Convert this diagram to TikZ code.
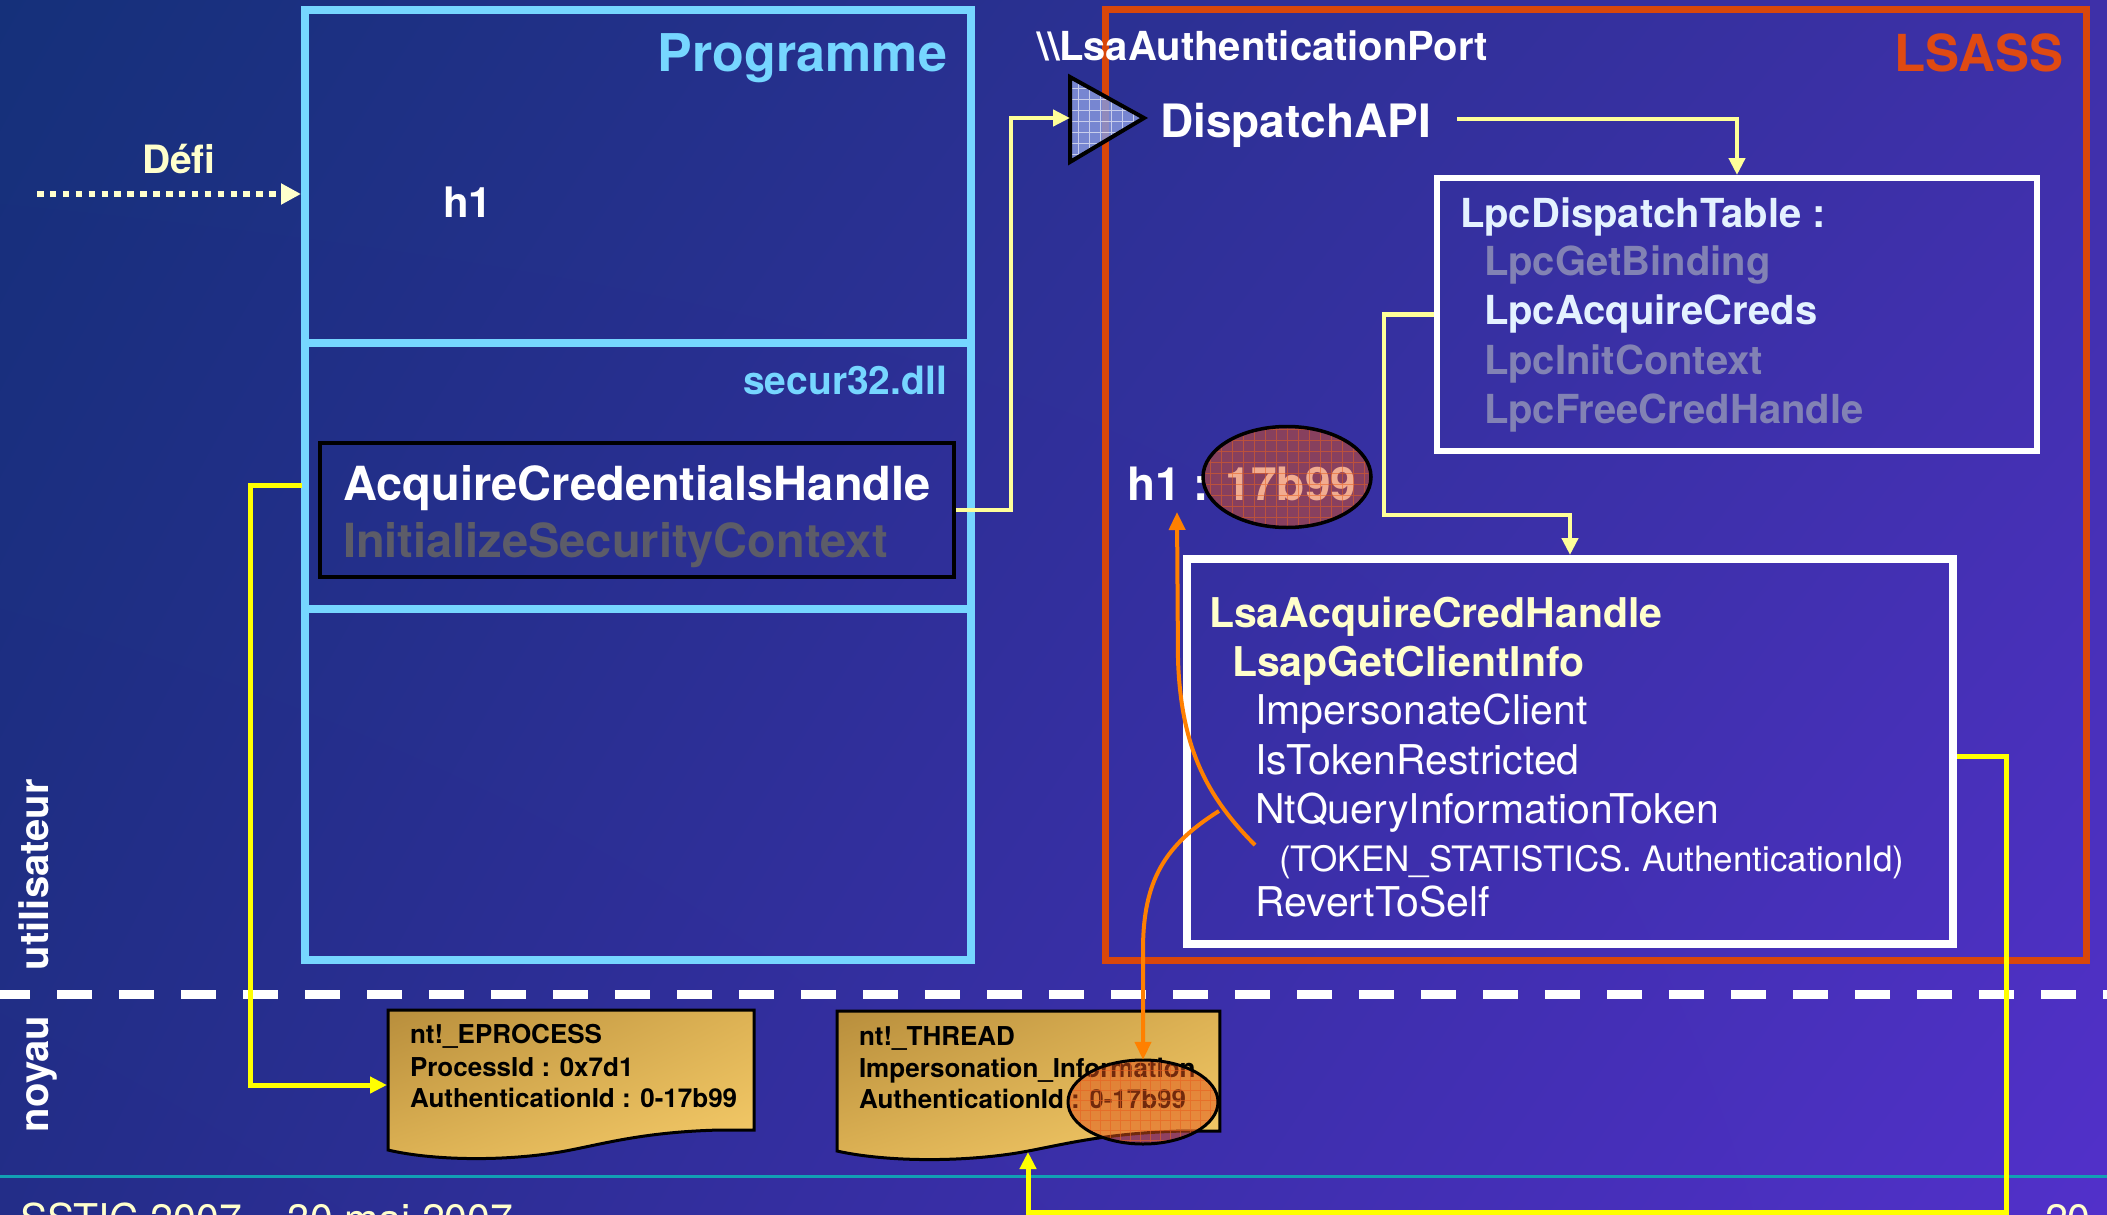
\documentclass[tikz,border=0pt]{standalone}
\usepackage{fontspec}
\setmainfont{TeX Gyre Heros}
\usetikzlibrary{arrows.meta,shapes.geometric,shadings}
\definecolor{bgUL}{HTML}{15307A}
\definecolor{bgUR}{HTML}{3E30A8}
\definecolor{bgLL}{HTML}{232D88}
\definecolor{bgLR}{HTML}{5230CA}
\definecolor{progc}{HTML}{76D6FF}
\definecolor{lsassc}{HTML}{D9470A}
\definecolor{lsasstxt}{HTML}{E04A12}
\definecolor{ylight}{HTML}{FFFF99}
\definecolor{ybright}{HTML}{FFFF00}
\definecolor{cream}{HTML}{FFFFCC}
\definecolor{grayTxt}{HTML}{5C5C68}
\definecolor{lpcgray}{HTML}{8282B4}
\definecolor{lpcwhite}{HTML}{E4F2FF}
\definecolor{orangec}{HTML}{FF8000}
\definecolor{overlayc}{HTML}{E25218}
\definecolor{gridc}{HTML}{E86020}
\definecolor{docdark}{HTML}{B88E3C}
\definecolor{docmid}{HTML}{DDB254}
\definecolor{doclight}{HTML}{F6CC6A}
\definecolor{tealc}{HTML}{12A0B4}
\definecolor{tribl}{HTML}{8596DC}
\newcommand\fsz[1]{\fontsize{#1}{#1}\selectfont}
\begin{document}
\begin{tikzpicture}[x=1pt,y=-1pt,
  lbl/.style={inner sep=0pt, outer sep=0pt, anchor=base west, text=white},
  lblr/.style={inner sep=0pt, outer sep=0pt, anchor=base east},
  bigbox/.style={draw, rectangle, inner sep=0pt},
  yl/.style={draw=ylight, line width=4.5pt, -{Triangle[length=17pt,width=16pt]}},
  yb/.style={draw=ybright, line width=5pt, -{Triangle[length=17pt,width=16pt]}},
  orarrow/.style={draw=orangec, line width=4pt, -{Triangle[length=18pt,width=16pt]}},
  docshape/.style={insert path={(0,0) -- (366,0) -- (366,120) -- (332,120) .. controls (252,122) and (212,135) .. (172,142) .. controls (112,152) and (42,150) .. (0,140) -- cycle}},
  docfill/.style={shading=bilinear interpolation, upper left=docdark, upper right=docmid, lower left=docmid, lower right=doclight, draw=black, line width=3pt},
  doctxt/.style={inner sep=0pt, outer sep=0pt, anchor=base west, text=black, font=\bfseries\fsz{26}},
]
\useasboundingbox (0,0) rectangle (2107,1215);
\clip (0,0) rectangle (2107,1215);
% background
\shade[shading=bilinear interpolation, upper left=bgUL, upper right=bgUR, lower left=bgLL, lower right=bgLR] (0,0) rectangle (2107,1215);
% separators
\draw[tealc, line width=3pt] (0,1176) -- (2107,1176);
\draw[white, line width=9pt, dash pattern=on 35pt off 27pt, dash phase=5pt] (0,994) -- (2107,994);

% side labels
\node[lbl, rotate=90, font=\bfseries\fsz{40}] (utl) at (48,970) {utilisateur};
\node[lbl, rotate=90, font=\bfseries\fsz{40}] (noy) at (48,1132) {noyau};

% footer
\node[lbl, text=cream, font=\fsz{41}] (footer) at (20,1233) {SSTIC 2007 – 30 mai 2007};
\node[lbl, text=cream, font=\fsz{41}] (pagenum) at (2045,1233) {20};

% Programme box
\node[bigbox, draw=progc, line width=8pt, minimum width=666pt, minimum height=950pt] (prog) at (638,485) {};
\draw[progc, line width=8pt] (prog.west |- 0,343) -- (prog.east |- 0,343);
\draw[progc, line width=8pt] (prog.west |- 0,609) -- (prog.east |- 0,609);
\node[lblr, text=progc, font=\bfseries\fsz{52}] (progtitle) at (947,72) {Programme};
\node[lblr, text=progc, font=\bfseries\fsz{39}] (secur) at (947,394) {secur32.dll};
\node[lbl, font=\bfseries\fsz{42}] (h1a) at (443,217) {h1};
\node[lbl, text=cream, font=\bfseries\fsz{39}] (defi) at (142,173) {Défi};

% ACH box
\node[bigbox, draw=black, line width=3.5pt, minimum width=634pt, minimum height=134pt] (ach) at (637,510) {};
\node[lbl, font=\bfseries\fsz{47}] (achtxt) at (343,500) {AcquireCredentialsHandle};
\node[lbl, text=grayTxt, font=\bfseries\fsz{47}] (isctxt) at (343,557) {InitializeSecurityContext};

% LSASS box
\node[bigbox, draw=lsassc, line width=7pt, minimum width=981pt, minimum height=950pt] (lsass) at (1595.5,485) {};
\node[lblr, text=lsasstxt, font=\bfseries\fsz{51}] (lsasstitle) at (2063,71) {LSASS};
\node[lbl, font=\bfseries\fsz{40}] (port) at (1037,60) {\textbackslash\textbackslash LsaAuthenticationPort};
\node[lbl, font=\bfseries\fsz{46}] (dispatch) at (1160,137) {DispatchAPI};

% LpcDispatchTable
\node[bigbox, draw=white, line width=6pt, minimum width=600pt, minimum height=273pt] (table) at (1737,314.5) {};
\node[lbl, text=lpcwhite, font=\bfseries\fsz{40}] (t0) at (1460,227) {LpcDispatchTable :};
\node[lbl, text=lpcgray, font=\bfseries\fsz{40}] (t1) at (1484,275) {LpcGetBinding};
\node[lbl, text=lpcwhite, font=\bfseries\fsz{40}] (t2) at (1484,324) {LpcAcquireCreds};
\node[lbl, text=lpcgray, font=\bfseries\fsz{40}] (t3) at (1484,374) {LpcInitContext};
\node[lbl, text=lpcgray, font=\bfseries\fsz{40}] (t4) at (1484,423) {LpcFreeCredHandle};

% LsaAcquireCredHandle box
\node[bigbox, draw=white, line width=8pt, minimum width=766pt, minimum height=385pt] (lsaacq) at (1570,751.5) {};
\node[lbl, text=cream, font=\bfseries\fsz{41}] (l0) at (1209,627) {LsaAcquireCredHandle};
\node[lbl, text=cream, font=\bfseries\fsz{41}] (l1) at (1232,676) {LsapGetClientInfo};
\node[lbl, font=\fsz{41}] (l2) at (1255,724) {ImpersonateClient};
\node[lbl, font=\fsz{41}] (l3) at (1255,774) {IsTokenRestricted};
\node[lbl, font=\fsz{41}] (l4) at (1255,823) {NtQueryInformationToken};
\node[lbl, font=\fsz{35}] (l5) at (1279,871) {(TOKEN\_STATISTICS. AuthenticationId)};
\node[lbl, font=\fsz{41}] (l6) at (1255,916) {RevertToSelf};

% h1 : 17b99
\node[lbl, font=\bfseries\fsz{46}] (h1b) at (1127,500) {h1 : 17b99};
\node[ellipse, inner sep=0pt, minimum width=168pt, minimum height=101pt, fill=overlayc, fill opacity=0.48] (ellA) at (1287,477) {};
\begin{scope}
  \clip (ellA.center) ellipse [x radius=84pt, y radius=50.5pt];
  \draw[gridc, line width=0.8pt, opacity=0.55] (1200,530) grid[step=11pt] (1375,425);
\end{scope}
\draw[black, line width=3.5pt] (ellA.center) ellipse [x radius=84pt, y radius=50.5pt];

% documents
\begin{scope}[shift={(388,1010)}]
  \shadedraw[docfill, docshape];
\end{scope}
\begin{scope}[shift={(837,1011)}, xscale=1.0464]
  \shadedraw[docfill, docshape];
\end{scope}
\node[doctxt] (e0) at (410,1043) {nt!\_EPROCESS};
\node[doctxt] (e1) at (410,1076) {ProcessId : 0x7d1};
\node[doctxt] (e2) at (410,1107) {AuthenticationId : 0-17b99};
\node[doctxt] (r0) at (859,1045) {nt!\_THREAD};
\node[doctxt] (r1) at (859,1077) {Impersonation\_Information};
\node[doctxt] (r2) at (859,1108) {AuthenticationId : 0-17b99};
\coordinate (eprocin) at (387,1085);
\coordinate (threadin) at (1028,1152);

% thread ellipse
\node[ellipse, inner sep=0pt, minimum width=150pt, minimum height=84pt, fill=overlayc, fill opacity=0.5] (ellB) at (1143,1102) {};
\begin{scope}
  \clip (ellB.center) ellipse [x radius=75pt, y radius=42pt];
  \draw[gridc, line width=0.8pt, opacity=0.6] (1060,1150) grid[step=10pt] (1230,1055);
\end{scope}
\draw[black, line width=3pt] (ellB.center) ellipse [x radius=75pt, y radius=42pt];

% port triangle
\coordinate (triA) at (1070,77);
\coordinate (triB) at (1070,162);
\coordinate (triC) at (1144,118);
\coordinate (triw) at (1070,118);
\fill[tribl, fill opacity=0.85] (triA) -- (triC) -- (triB) -- cycle;
\begin{scope}
  \clip (triA) -- (triC) -- (triB) -- cycle;
  \draw[white, line width=0.8pt, opacity=0.6] (1060,170) grid[step=11pt] (1150,70);
\end{scope}
\draw[black, line width=4pt, line join=miter] (triA) -- (triC) -- (triB) -- cycle;

% connectors
\coordinate (defist) at (37,194);
\draw[cream, line width=6pt, dash pattern=on 6.5pt off 6.4pt, -{Triangle[length=20pt,width=20pt]}] (defist) -- (prog.west |- defist);
\coordinate (achout) at (302,485);
\coordinate (leftbend) at (250,485);
\draw[yb] (achout) -- (leftbend) |- (eprocin);
\coordinate (rightbend) at (1011,510);
\draw[yl] (ach.east) -- (rightbend) |- (triw);
\coordinate (dispend) at (1457,119);
\draw[yl] (dispend) -| (table.north);
\coordinate (tbend1) at (1384,314.5);
\coordinate (tbend2) at (1384,515);
\draw[yl] (table.west) -- (tbend1) -- (tbend2) -| (lsaacq.north);
\coordinate (lsaout) at (1957,756);
\coordinate (rbend1) at (2006,756);
\coordinate (rbend2) at (2006,1212);
\draw[yb] (lsaout) -- (rbend1) -- (rbend2) -| (threadin);
% orange
\coordinate (osrc) at (1255,845);
\coordinate (ojun) at (1219,811);
\coordinate (h1tip) at (1177,512);
\draw[orarrow] (osrc) .. controls (1205,795) and (1181,745) .. (1178,660) -- (h1tip);
\draw[orarrow] (ojun) .. controls (1165,845) and (1143,880) .. (1143,950) -- (ellB.north);
\end{tikzpicture}
\end{document}
